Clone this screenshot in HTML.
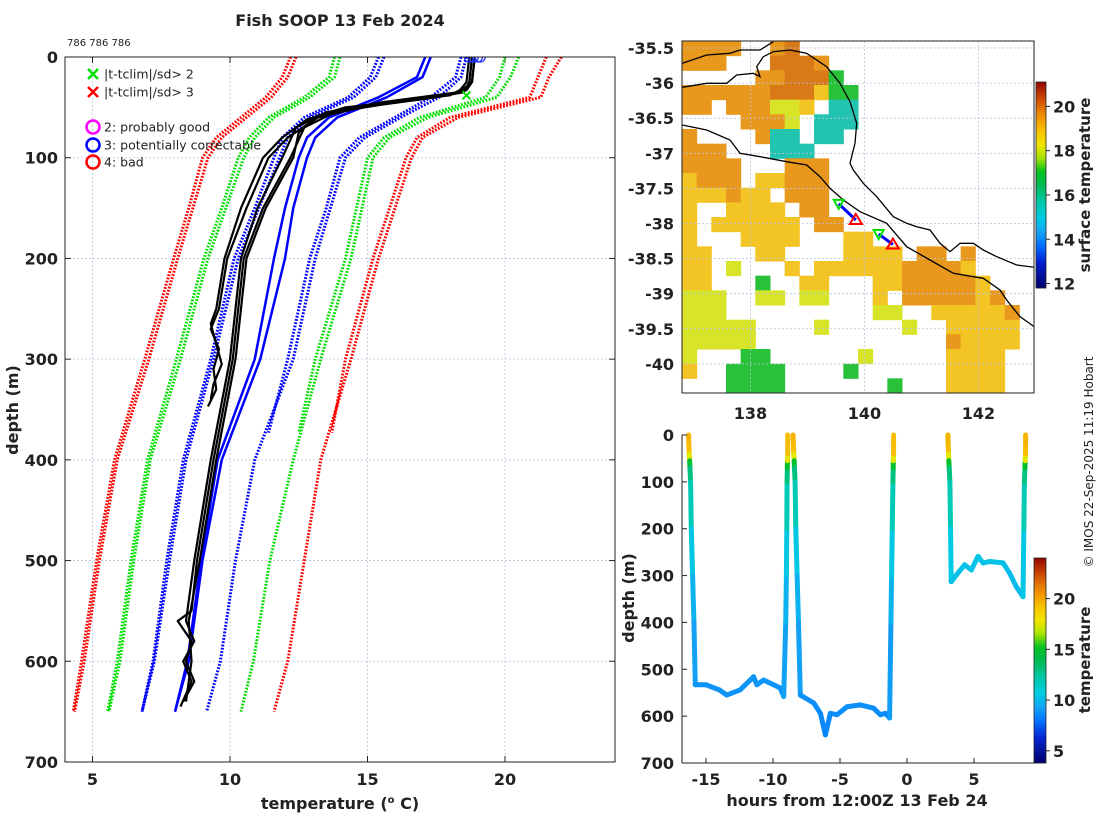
<!DOCTYPE html>
<html><head><meta charset="utf-8"><style>
body{margin:0;background:#fff;}
svg{display:block;font-family:"DejaVu Sans","Liberation Sans",sans-serif;}
.tk{font-size:16px;font-weight:bold;fill:#222;}
</style></head><body>
<svg id="fig" width="1100" height="820" viewBox="0 0 1100 820">
<defs>
<clipPath id="clipL"><rect x="65" y="57" width="550" height="705"/></clipPath>
<clipPath id="clipM"><rect x="682" y="41" width="352" height="352"/></clipPath>
<clipPath id="clipB"><rect x="682" y="430" width="352" height="340"/></clipPath>
</defs>
<text x="340" y="26" text-anchor="middle" font-size="16" font-weight="bold" fill="#222">Fish SOOP 13 Feb 2024</text>
<text x="67" y="46" font-size="10" fill="#222">786 786 786</text>
<g id="left"></g>
<g id="map"></g>
<g id="bot"></g>
<text transform="translate(1093,462) rotate(-90)" text-anchor="middle" font-size="12" fill="#222">© IMOS 22-Sep-2025 11:19 Hobart</text>
</svg>
<script>
// ---------- left profile chart data ----------
const climDepth = [0,20,40,60,80,100,150,200,300,400,500,600,650];
const redL1   = [12.4,12.1,11.5,10.6,9.7,9.2,8.65,8.1,7.05,5.9,5.25,4.7,4.35];
const redL2   = [12.2,11.9,11.3,10.4,9.5,9.0,8.5,7.95,6.9,5.8,5.15,4.6,4.3];
const greenL1 = [14.0,13.8,12.9,11.6,10.9,10.5,9.85,9.2,8.2,7.1,6.5,6.0,5.6];
const greenL2 = [13.8,13.6,12.7,11.4,10.7,10.3,9.7,9.05,8.05,7.0,6.4,5.9,5.55];
const blueDL1 = [15.6,15.3,14.5,12.9,12.1,11.8,11.05,10.3,9.4,8.4,7.8,7.25,6.8];
const blueDL2 = [15.4,15.1,14.3,12.7,11.9,11.6,10.9,10.15,9.3,8.3,7.7,7.2,6.8];
const blueS1  = [17.1,16.8,15.4,13.6,12.8,12.5,12.0,11.6,10.9,9.55,8.95,8.45,8.0];
const blueS2  = [17.3,17.0,15.7,13.9,13.1,12.8,12.3,12.0,11.1,9.7,9.0,8.5,8.0];
const blueDR1 = [18.6,18.4,17.6,16.2,14.9,14.2,13.65,13.1,12.3,10.9,10.2,9.65,9.15];
const greenR1 = [20.5,20.2,19.7,17.2,15.8,15.2,14.8,14.4,13.3,12.3,11.45,10.85,10.4];
const redR1   = [22.05,21.6,21.3,18.3,17.0,16.6,16.0,15.4,14.4,13.3,12.7,12.1,11.6];
const shortDepth = [0,20,40,60,80,100,150,200,300,373];
const blueDR2 = [18.4,18.2,17.3,16.0,14.7,14.0,13.5,12.9,12.1,11.4];
const greenR2 = [20.0,19.8,19.3,16.9,15.6,15.0,14.6,14.2,13.1,12.5];
const redR2   = [21.5,21.2,20.9,18.0,16.8,16.4,15.8,15.2,14.2,13.7];
const k1d = [0,25,33,40,50,60,80,100,150,200,250,270,290,310,330,347];
const k1t = [18.9,18.8,18.6,17.5,14.8,13.2,12.1,11.4,10.6,9.9,9.6,9.3,9.6,9.4,9.5,9.2];
const k2d = [0,25,35,42,50,62,80,100,150,200,250,265,285,305,325,340];
const k2t = [18.8,18.7,18.5,17.0,14.2,12.8,11.9,11.2,10.4,9.8,9.5,9.3,9.5,9.7,9.4,9.3];
const k3d = [0,25,35,45,55,70,100,150,200,300,400,500,550,560,580,600,620,640];
const k3t = [18.9,18.8,18.4,16.0,13.8,12.7,12.2,11.2,10.5,10.1,9.4,8.8,8.6,8.1,8.6,8.4,8.7,8.3];
const k4d = [0,25,35,45,55,70,100,150,200,300,400,500,560,580,600,620,645];
const k4t = [18.7,18.6,18.3,15.5,13.5,12.4,11.9,11.0,10.4,10.0,9.3,8.7,8.4,8.7,8.3,8.6,8.2];
const k5d = [0,28,38,48,58,75,100,150,200,300,400,500,560,600,640];
const k5t = [18.8,18.7,18.0,15.0,13.2,12.5,12.3,11.3,10.6,10.2,9.5,8.9,8.5,8.6,8.4];
const circleT = [18.7,18.85,19.0,19.1];
const flagT = [18.6]; const flagD = [38];
const xTicks = [5,10,15,20];
const yTicks = [0,100,200,300,400,500,600,700];

// ---------- map data ----------
const latTicks = [-35.5,-36,-36.5,-37,-37.5,-38,-38.5,-39,-39.5,-40];
const lonTicks = [138,140,142];
const sstGrid = [
"oooo..od................",
"ooo...dddo..............",
".....oodddg.............",
"oooooodddygg............",
"oo.ooolly.cc............",
"....oool.ccc............",
"o....occ.cc.............",
"ooo...ccc...............",
"oooo...ooo..............",
"yooo.yyooo..............",
"yyyoyy.ooo..............",
"y..yyyy.oo..............",
"y.yyyyyy.oo.............",
"y...yyyy...yy...........",
"yy...yy....yyyy.oo.o....",
"yy.l...y.yyyyyyooooy....",
"yy...g..yy...yyoooooy...",
"lll..ll.ll...y.oooooyo..",
"lll..........ll..yyyyyo.",
"lllll....l.....l..yyyyy.",
"lllll.............oyyyy.",
"l...gg......l.....yyyy..",
"y..gggg....g......yyyy..",
"...gggg.......g...yyyy.."];
const mapCbTicks = [12,14,16,18,20];
const trackLon1 = [139.55,139.85]; const trackLat1 = [-37.72,-37.95];
const trackLon2 = [140.25,140.5]; const trackLat2 = [-38.15,-38.3];

// ---------- bottom (time) chart data ----------
const seg1H = [-16.3,-16.28,-16.25,-16.22,-16.2,-16.15,-16.1,-16.0,-15.9,-15.8,-15.0,-14.0,-13.45,-12.46,-11.7,-11.45,-11.2,-10.7,-9.96,-9.46,-9.2,-9.05,-9.0,-8.97,-8.95,-8.93,-8.92,-8.9,-8.9];
const seg1D = [0,20,40,55,70,100,200,300,400,533,533,544,555,544,523,516,533,523,533,540,558,400,300,200,100,70,55,40,0];
const seg1T = [19.5,19.5,19,16,13.5,12.5,11,10,9.5,8.8,8.8,8.8,8.8,8.8,8.9,8.9,8.8,8.9,8.8,8.8,8.8,9.5,10,11,12.5,13.5,16,19,19.5];
const seg2H = [-8.5,-8.48,-8.45,-8.42,-8.4,-8.35,-8.3,-8.2,-8.1,-7.96,-6.96,-6.46,-6.09,-5.72,-5.22,-4.48,-3.48,-2.49,-1.99,-1.61,-1.3,-1.2,-1.15,-1.1,-1.05,-1.03,-1.02,-1.0,-1.0];
const seg2D = [0,20,40,55,70,100,200,300,400,555,572,594,640,594,597,580,576,583,597,594,604,400,300,200,100,70,55,40,0];
const seg2T = [19.5,19.5,19,16,13.5,12.5,11,10,9.5,8.8,8.7,8.6,8.4,8.6,8.6,8.7,8.7,8.7,8.6,8.6,8.6,9.5,10,11,12.5,13.5,16,19,19.5];
const seg3H = [3.05,3.07,3.1,3.12,3.15,3.2,3.25,3.3,3.68,4.3,4.8,5.3,5.67,6.17,7.17,7.66,8.16,8.66,8.72,8.76,8.8,8.82,8.84,8.85,8.85];
const seg3D = [0,20,40,55,70,100,200,313,299,277,288,259,273,270,273,295,324,345,200,100,70,55,40,20,0];
const seg3T = [19.5,19.5,19,16,13.5,12.5,11,10.2,10.2,10.3,10.2,10.4,10.3,10.3,10.3,10.2,10.0,9.9,11,12.5,13.5,16,19,19.5,19.5];
const hTicks = [-15,-10,-5,0,5];
const bDepthTicks = [0,100,200,300,400,500,600,700];
const bCbTicks = [5,10,15,20];

const NS = "http://www.w3.org/2000/svg";
function mk(tag, attrs, parent){ const e=document.createElementNS(NS,tag); for(const k in attrs) e.setAttribute(k,attrs[k]); parent.appendChild(e); return e; }

const cmStops=[[0,[0,0,112]],[0.12,[0,32,208]],[0.2,[0,110,255]],[0.27,[20,165,245]],[0.34,[0,205,225]],[0.42,[0,200,160]],[0.5,[0,184,80]],[0.56,[0,196,32]],[0.63,[170,228,0]],[0.69,[240,230,0]],[0.76,[248,192,0]],[0.83,[240,144,0]],[0.91,[208,80,0]],[1,[144,0,0]]];
function cmap(f){ f=Math.max(0,Math.min(1,f)); for(let i=1;i<cmStops.length;i++){ if(f<=cmStops[i][0]){ const a=cmStops[i-1],b=cmStops[i]; const u=(f-a[0])/(b[0]-a[0]); const c=a[1].map((v,j)=>Math.round(v+(b[1][j]-v)*u)); return `rgb(${c[0]},${c[1]},${c[2]})`; } } return 'rgb(144,0,0)'; }

// ============ LEFT CHART ============
const L=document.getElementById('left');
const xT=t=>65+(t-4)*27.5, yD=d=>57+d*705/700;
for(const t of xTicks){ const g=mk('line',{x1:xT(t),x2:xT(t),y1:57,y2:762,stroke:'#b8c4e0','stroke-width':0.8,'stroke-dasharray':'2 2'},L);
 
const tx=mk('text',{x:xT(t),y:785,'text-anchor':'middle',class:'tk'},L); tx.textContent=t;
 
mk('line',{x1:xT(t),x2:xT(t),y1:762,y2:756,stroke:'#222'},L); mk('line',{x1:xT(t),x2:xT(t),y1:57,y2:63,stroke:'#222'},L); }
for(const d of yTicks){ const g=mk('line',{x1:65,x2:615,y1:yD(d),y2:yD(d),stroke:'#b8c4e0','stroke-width':0.8,'stroke-dasharray':'2 2'},L);
 
const tx=mk('text',{x:58,y:yD(d)+6,'text-anchor':'end',class:'tk'},L); tx.textContent=d;
 
mk('line',{x1:65,x2:71,y1:yD(d),y2:yD(d),stroke:'#222'},L); mk('line',{x1:615,x2:609,y1:yD(d),y2:yD(d),stroke:'#222'},L); }
const LP=mk('g',{'clip-path':'url(#clipL)'},L);
function prof(ds,ts,color,dotted,name,w){
  const p=mk('polyline',{points:ds.map((d,i)=>xT(ts[i])+','+yD(d)).join(' '),fill:'none',stroke:color,'stroke-width':w||3,'stroke-dasharray':dotted?'1.8 1.5':'none','stroke-linejoin':'round'},LP);
  
  
}
prof(climDepth,redL1,'#ff0000',true,'clim-minus-3sd');
prof(climDepth,redL2,'#ff0000',true,'clim-minus-3sd-b');
prof(climDepth,greenL1,'#00e000',true,'clim-minus-2sd');
prof(climDepth,greenL2,'#00e000',true,'clim-minus-2sd-b');
prof(climDepth,blueDL1,'#0000ff',true,'clim-minus-1sd');
prof(climDepth,blueDL2,'#0000ff',true,'clim-minus-1sd-b');
prof(climDepth,blueDR1,'#0000ff',true,'clim-plus-1sd');
prof(shortDepth,blueDR2,'#0000ff',true,'clim-plus-1sd-b');
prof(climDepth,greenR1,'#00e000',true,'clim-plus-2sd');
prof(shortDepth,greenR2,'#00e000',true,'clim-plus-2sd-b');
prof(climDepth,redR1,'#ff0000',true,'clim-plus-3sd');
prof(shortDepth,redR2,'#ff0000',true,'clim-plus-3sd-b');
prof(climDepth,blueS1,'#0000ff',false,'clim-mean',2.5);
prof(climDepth,blueS2,'#0000ff',false,'clim-mean-b',2.5);
prof(k1d,k1t,'#000',false,'profile-1',2.2);
prof(k2d,k2t,'#000',false,'profile-2',2.2);
prof(k3d,k3t,'#000',false,'profile-3',2.2);
prof(k4d,k4t,'#000',false,'profile-4',2.2);
prof(k5d,k5t,'#000',false,'profile-5',2.2);
for(const t of circleT){ const c=mk('circle',{cx:xT(t),cy:yD(0),r:5,fill:'none',stroke:'#2030ff','stroke-width':1.2},LP);
  }
flagT.forEach((t,i)=>{ const x=xT(t),y=yD(flagD[i]); const p=mk('path',{d:`M${x-4},${y-4}L${x+4},${y+4}M${x-4},${y+4}L${x+4},${y-4}`,stroke:'#00e000','stroke-width':2},LP);
  });
mk('rect',{x:65,y:57,width:550,height:705,fill:'none',stroke:'#222','stroke-width':1},L);
const lg=mk('g',{},L);  
function lgX(y,col,txt,name){ const g=mk('g',{},lg);  
mk('path',{d:`M88,${y-5}L98,${y+5}M88,${y+5}L98,${y-5}`,stroke:col,'stroke-width':2.5},g);
const t=mk('text',{x:104,y:y+4.5,'font-size':12.5,fill:'#222'},g); t.textContent=txt; }
function lgO(y,col,txt,name){ const g=mk('g',{},lg);  
mk('circle',{cx:93,cy:y,r:6.5,fill:'none',stroke:col,'stroke-width':2.5},g);
const t=mk('text',{x:104,y:y+4.5,'font-size':12.5,fill:'#222'},g); t.textContent=txt; }
lgX(74,'#00e000','|t-tclim|/sd> 2','legend-entry-2sd');
lgX(92,'#ff0000','|t-tclim|/sd> 3','legend-entry-3sd');
lgO(127,'#ff00ff','2: probably good','legend-entry-good');
lgO(145,'#0000ff','3: potentially correctable','legend-entry-correctable');
lgO(162,'#ff0000','4: bad','legend-entry-bad');
const xl=mk('text',{x:340,y:809,'text-anchor':'middle','font-size':16,'font-weight':'bold',fill:'#222'},L);
xl.innerHTML='temperature (<tspan dy="-6" font-size="10">o</tspan><tspan dy="6"> C)</tspan>';
 
const yl=mk('text',{transform:'translate(18,410) rotate(-90)','text-anchor':'middle','font-size':16,'font-weight':'bold',fill:'#222'},L); yl.textContent='depth (m)';
 

// ============ MAP ============
const M=document.getElementById('map');
const lonX=l=>682+(l-136.8)*57, latY=l=>48+(-35.5-l)*70.2;
const MC=mk('g',{'clip-path':'url(#clipM)'},M);
const sstCol={o:'#e8981c',d:'#d97a18',y:'#f2c424',l:'#d8e428',g:'#28c23a',c:'#22c4b0'};
const cw=352/24;
sstGrid.forEach((row,r)=>{ for(let c=0;c<row.length;c++){ const ch=row[c]; if(sstCol[ch]){ const rc=mk('rect',{x:682+c*cw,y:41+r*cw,width:cw+0.5,height:cw+0.5,fill:sstCol[ch]},MC);
  } } });
for(const l of lonTicks){ mk('line',{x1:lonX(l),x2:lonX(l),y1:41,y2:393,stroke:'#b8c4e0','stroke-width':0.8,'stroke-dasharray':'2 2'},MC);
const t=mk('text',{x:lonX(l),y:419,'text-anchor':'middle',class:'tk'},M); t.textContent=l;
  }
for(const l of latTicks){ mk('line',{x1:682,x2:1034,y1:latY(l),y2:latY(l),stroke:'#b8c4e0','stroke-width':0.8,'stroke-dasharray':'2 2'},MC);
const t=mk('text',{x:674,y:latY(l)+6,'text-anchor':'end',class:'tk'},M); t.textContent=l;
  }
function zp(pts){ return pts.map(p=>(p[0]/3+620).toFixed(1)+','+(p[1]/3+30).toFixed(1)).join(' '); }
const coasts=[
[[510,60],[560,70],[620,110],[660,160],[690,215],[710,280],[705,340],[690,400],[700,420],[730,460],[770,500],[820,560],[860,580],[890,590],[930,600],[960,640],[990,665],[1020,640],[1060,640],[1090,660],[1130,680],[1190,705],[1243,712]],
[[187,100],[260,75],[330,70],[360,60],[420,60],[460,35]],
[[187,172],[260,160],[320,160],[350,135],[400,130],[420,140],[410,110],[430,80],[460,65],[510,60]],
[[187,285],[260,300],[330,330],[360,370],[420,380],[500,395],[560,405],[600,440],[630,475],[670,510],[720,545],[800,580],[860,650],[930,690],[1000,730],[1060,740],[1090,745],[1140,780],[1160,810],[1200,860],[1243,890]]];
coasts.forEach(c=>{ const p=mk('polyline',{points:zp(c),fill:'none',stroke:'#000','stroke-width':1.3},MC);
  });
function track(lo,la){ const p=mk('line',{x1:lonX(lo[0]),y1:latY(la[0]),x2:lonX(lo[1]),y2:latY(la[1]),stroke:'#0000ff','stroke-width':3},MC);
 
const x0=lonX(lo[0]),y0=latY(la[0]),x1=lonX(lo[1]),y1=latY(la[1]);
const s=mk('path',{d:`M${x0-5},${y0-4}L${x0+5},${y0-4}L${x0},${y0+5}Z`,fill:'none',stroke:'#00e000','stroke-width':2},MC);
 
const e=mk('path',{d:`M${x1-6},${y1+4}L${x1+6},${y1+4}L${x1},${y1-6}Z`,fill:'none',stroke:'#ff0000','stroke-width':2},MC);
  }
track(trackLon1,trackLat1); track(trackLon2,trackLat2);
mk('rect',{x:682,y:41,width:352,height:352,fill:'none',stroke:'#222','stroke-width':1},M);
const mcb0=11.8,mcb1=21.1, mcY=t=>288-(t-mcb0)/(mcb1-mcb0)*206;
for(let i=0;i<103;i++){ const f=i/103; mk('rect',{x:1036,y:288-(i+1)*2,width:10,height:2.2,fill:cmap(f)},M); }
mk('rect',{x:1036,y:82,width:10,height:206,fill:'none',stroke:'#222','stroke-width':0.8},M);
for(const t of mapCbTicks){ mk('line',{x1:1046,x2:1050,y1:mcY(t),y2:mcY(t),stroke:'#222'},M);
const tx=mk('text',{x:1053,y:mcY(t)+6,class:'tk'},M); tx.textContent=t;
  }
const mcl=mk('text',{transform:'translate(1090,185) rotate(-90)','text-anchor':'middle','font-size':15,'font-weight':'bold',fill:'#222'},M); mcl.textContent='surface temperature';
 

// ============ BOTTOM ============
const B=document.getElementById('bot');
const hX=h=>907+h*13.4, dY=d=>435+d*328/700;
const bT0=3.8,bT1=24, bcY=t=>763-(t-bT0)/(bT1-bT0)*205;
const BC=mk('g',{'clip-path':'url(#clipB)'},B);
function seg(H,D,T,name){ for(let i=0;i<H.length-1;i++){ const l=mk('line',{x1:hX(H[i]),y1:dY(D[i]),x2:hX(H[i+1]),y2:dY(D[i+1]),stroke:cmap(((T[i]+T[i+1])/2-bT0)/(bT1-bT0)),'stroke-width':5,'stroke-linecap':'round'},BC);
  } }
seg(seg1H,seg1D,seg1T,'tow-segment-1'); seg(seg2H,seg2D,seg2T,'tow-segment-2'); seg(seg3H,seg3D,seg3T,'tow-segment-3');
mk('line',{x1:682,x2:682,y1:435,y2:763,stroke:'#222'},B); mk('line',{x1:682,x2:1034,y1:763,y2:763,stroke:'#222'},B);
for(const h of hTicks){ mk('line',{x1:hX(h),x2:hX(h),y1:763,y2:758,stroke:'#222'},B);
const t=mk('text',{x:hX(h),y:785,'text-anchor':'middle',class:'tk'},B); t.textContent=h;
  }
for(const d of bDepthTicks){ mk('line',{x1:682,x2:687,y1:dY(d),y2:dY(d),stroke:'#222'},B);
const t=mk('text',{x:674,y:dY(d)+6,'text-anchor':'end',class:'tk'},B); t.textContent=d;
  }
for(let i=0;i<103;i++){ const f=i/103; mk('rect',{x:1034,y:763-(i+1)*1.99,width:12,height:2.2,fill:cmap(f)},B); }
mk('rect',{x:1034,y:558,width:12,height:205,fill:'none',stroke:'#222','stroke-width':0.8},B);
for(const t of bCbTicks){ mk('line',{x1:1046,x2:1050,y1:bcY(t),y2:bcY(t),stroke:'#222'},B);
const tx=mk('text',{x:1053,y:bcY(t)+6,class:'tk'},B); tx.textContent=t;
  }
const bcl=mk('text',{transform:'translate(1090,660) rotate(-90)','text-anchor':'middle','font-size':15,'font-weight':'bold',fill:'#222'},B); bcl.textContent='temperature';
 
const bxl=mk('text',{x:857,y:806,'text-anchor':'middle','font-size':16,'font-weight':'bold',fill:'#222'},B); bxl.textContent='hours from 12:00Z 13 Feb 24';
 
const byl=mk('text',{transform:'translate(634,598) rotate(-90)','text-anchor':'middle','font-size':16,'font-weight':'bold',fill:'#222'},B); byl.textContent='depth (m)';
 
</script>
</body></html>
